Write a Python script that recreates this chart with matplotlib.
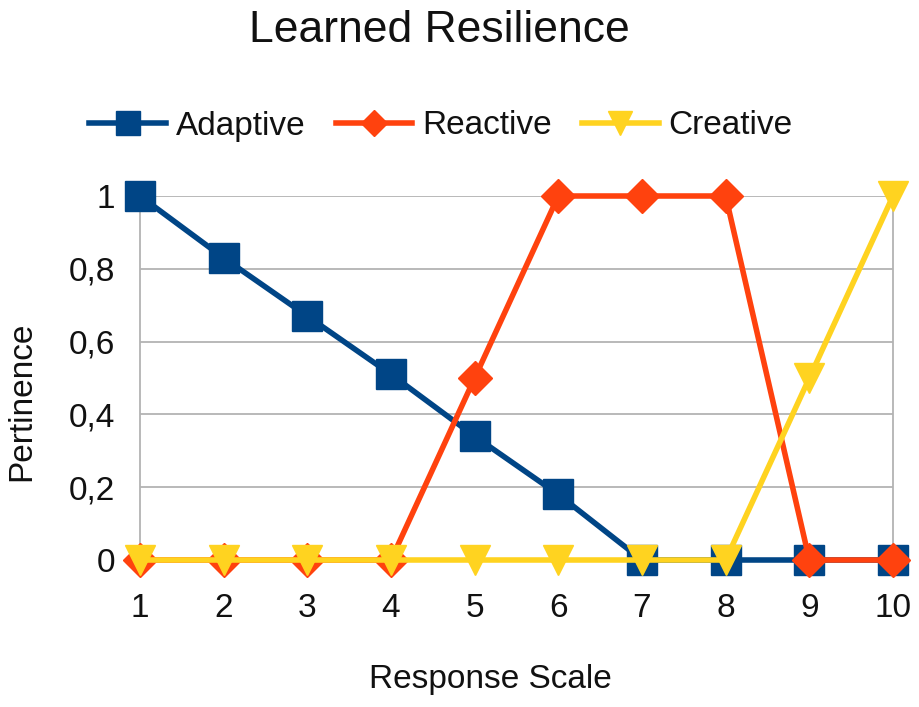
import matplotlib.pyplot as plt

plt.rcParams['font.family'] = ['Liberation Sans', 'DejaVu Sans']

x = [1, 2, 3, 4, 5, 6, 7, 8, 9, 10]
adaptive = [1, 0.83, 0.67, 0.51, 0.34, 0.18, 0, 0, 0, 0]
reactive = [0, 0, 0, 0, 0.5, 1, 1, 1, 0, 0]
creative = [0, 0, 0, 0, 0, 0, 0, 0, 0.5, 1]
y_ticks = [0, 0.2, 0.4, 0.6, 0.8, 1]
y_labels = ["0", "0,2", "0,4", "0,6", "0,8", "1"]

fig = plt.figure(figsize=(9.19, 7.07), dpi=100)
ax = fig.add_axes([140 / 919, 1 - 560 / 707, 753 / 919, 364 / 707])

ax.plot(x, adaptive, color="#004586", lw=4, marker="s", ms=21, label="Adaptive", clip_on=False, zorder=3)
ax.plot(x, reactive, color="#ff420e", lw=4, marker="D", ms=17, label="Reactive", clip_on=False, zorder=4)
ax.plot(x, creative, color="#ffd320", lw=4, marker="v", ms=21, label="Creative", clip_on=False, zorder=5)

ax.set_xlim(1, 10)
ax.set_ylim(0, 1)
ax.set_xticks(x)
ax.set_yticks(y_ticks)
ax.set_yticklabels(y_labels)
ax.tick_params(length=0, labelsize=24, colors="#111111")
ax.tick_params(axis="x", pad=24)
ax.tick_params(axis="y", pad=18)
ax.grid(axis="y", color="#b3b3b3", lw=1.3)
for s in ["top", "bottom"]:
    ax.spines[s].set_visible(False)
for s in ["left", "right"]:
    ax.spines[s].set_color("#b3b3b3")
    ax.spines[s].set_linewidth(1.3)

fig.text(439 / 919, 1 - 42 / 707, "Learned Resilience", ha="center", va="baseline", fontsize=32, color="#111111")
fig.text(490 / 919, 1 - 688 / 707, "Response Scale", ha="center", va="baseline", fontsize=24, color="#111111")
fig.text(22 / 919, 1 - 401 / 707, "Pertinence", ha="center", va="center", fontsize=24, rotation=90, color="#111111")

fig.legend(loc="center", bbox_to_anchor=(0.48, 1 - 126 / 707), ncol=3, frameon=False,
           fontsize=24, handlelength=2.3, handletextpad=0.3, columnspacing=0.9, markerscale=0.8,
           labelcolor="#111111")

fig.savefig("out.png", dpi=100)
